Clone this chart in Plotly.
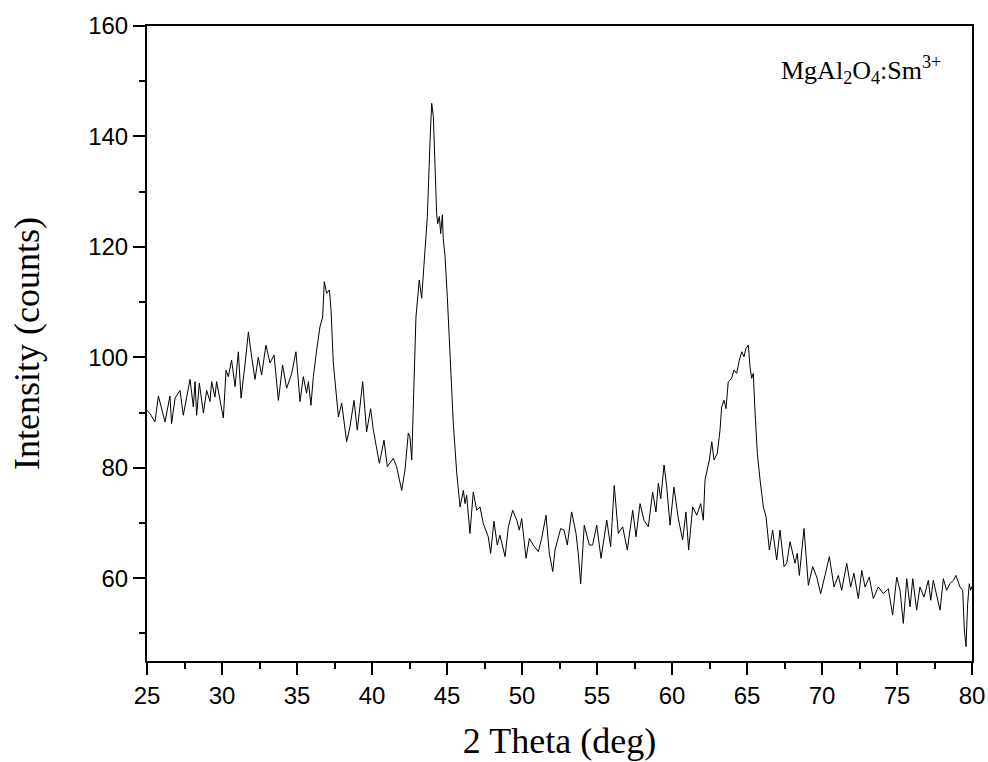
import plotly.graph_objects as go

two_theta = [
    25.00, 25.20, 25.53, 25.76, 26.20, 26.53, 26.64, 26.87, 27.20, 27.42,
    27.87, 28.09, 28.20, 28.31, 28.49, 28.76, 28.98, 29.20, 29.31, 29.53,
    29.64, 29.87, 30.09, 30.27, 30.42, 30.64, 30.87, 31.09, 31.27, 31.53,
    31.76, 31.98, 32.20, 32.42, 32.64, 32.93, 33.20, 33.47, 33.76, 34.04,
    34.31, 34.64, 34.93, 35.20, 35.42, 35.64, 35.76, 35.93, 36.09, 36.31,
    36.53, 36.71, 36.82, 36.98, 37.16, 37.27, 37.42, 37.76, 37.98, 38.31,
    38.53, 38.80, 39.02, 39.38, 39.64, 39.91, 40.09, 40.49, 40.80, 41.02,
    41.42, 41.64, 41.98, 42.20, 42.42, 42.53, 42.65, 42.93, 43.15, 43.31,
    43.42, 43.53, 43.69, 43.87, 43.98, 44.09, 44.20, 44.31, 44.38, 44.49,
    44.58, 44.69, 44.75, 44.87, 45.02, 45.20, 45.42, 45.65, 45.87, 46.09,
    46.20, 46.31, 46.53, 46.75, 46.98, 47.20, 47.42, 47.75, 47.91, 48.13,
    48.35, 48.53, 48.87, 49.09, 49.38, 49.65, 49.82, 49.98, 50.09, 50.27,
    50.49, 50.75, 51.09, 51.31, 51.60, 51.82, 52.05, 52.20, 52.58, 52.80,
    53.02, 53.31, 53.60, 53.75, 53.91, 54.15, 54.49, 54.71, 54.98, 55.27,
    55.65, 55.91, 56.15, 56.42, 56.71, 57.02, 57.38, 57.60, 57.87, 58.13,
    58.42, 58.71, 58.93, 59.09, 59.25, 59.47, 59.65, 59.87, 60.13, 60.42,
    60.71, 60.93, 61.11, 61.38, 61.65, 61.91, 62.09, 62.20, 62.49, 62.65,
    62.80, 63.02, 63.20, 63.31, 63.47, 63.60, 63.75, 63.98, 64.13, 64.31,
    64.49, 64.65, 64.80, 64.93, 65.09, 65.20, 65.31, 65.42, 65.53, 65.69,
    65.87, 66.09, 66.27, 66.49, 66.71, 66.98, 67.20, 67.47, 67.65, 67.87,
    68.20, 68.35, 68.49, 68.80, 69.09, 69.38, 69.65, 69.91, 70.20, 70.49,
    70.80, 71.09, 71.31, 71.65, 71.91, 72.13, 72.42, 72.65, 72.87, 73.15,
    73.42, 73.75, 74.09, 74.42, 74.71, 74.98, 75.20, 75.42, 75.65, 75.87,
    76.05, 76.31, 76.53, 76.80, 77.09, 77.25, 77.42, 77.65, 77.87, 78.09,
    78.31, 78.53, 78.75, 78.93, 79.20, 79.38, 79.49, 79.60, 79.71, 79.82,
    79.91, 80.00,
]

intensity = [
    90.4, 89.8, 88.3, 93.0, 88.3, 93.0, 88.0, 92.6, 94.0, 89.5,
    96.0, 91.0, 95.6, 89.5, 95.3, 89.9, 94.0, 92.0, 95.6, 92.8,
    95.6, 92.2, 89.0, 97.7, 96.5, 99.5, 94.7, 101.0, 92.6, 98.6,
    104.6, 100.0, 96.0, 100.0, 96.8, 102.2, 99.0, 100.4, 92.2, 98.6,
    94.4, 97.0, 101.0, 92.0, 96.5, 93.5, 95.6, 91.3, 96.5, 101.3,
    105.5, 107.3, 113.7, 111.6, 112.2, 108.5, 99.0, 89.2, 91.7, 84.7,
    87.4, 92.2, 86.8, 95.6, 86.5, 90.7, 86.8, 80.8, 85.0, 80.2,
    81.7, 80.2, 75.9, 79.6, 86.3, 85.6, 81.4, 107.3, 114.0, 110.7,
    115.2, 119.4, 125.5, 139.3, 146.0, 143.6, 134.6, 126.0, 124.2, 125.5,
    122.4, 125.8, 121.5, 118.2, 111.0, 100.1, 88.0, 79.0, 72.9, 75.9,
    73.5, 75.0, 68.1, 75.6, 72.3, 72.9, 69.9, 67.5, 64.5, 70.3,
    66.0, 67.8, 63.9, 69.3, 72.3, 70.5, 68.7, 70.8, 68.1, 63.6,
    67.2, 66.0, 64.8, 67.2, 71.4, 64.5, 61.2, 65.1, 69.0, 68.7,
    66.0, 72.0, 68.1, 64.5, 59.0, 69.6, 66.0, 66.0, 69.6, 63.6,
    70.5, 65.7, 76.8, 68.1, 69.3, 65.1, 72.3, 67.5, 73.5, 70.5,
    69.3, 75.6, 72.0, 77.2, 74.4, 80.5, 76.5, 69.6, 76.5, 70.8,
    66.9, 72.0, 65.1, 72.9, 71.4, 73.5, 70.5, 77.8, 81.4, 84.7,
    81.4, 82.6, 86.8, 91.0, 92.2, 90.7, 95.6, 96.2, 97.7, 97.1,
    99.5, 101.0, 100.1, 101.6, 102.2, 98.3, 96.2, 97.1, 90.4, 82.6,
    77.8, 72.9, 71.1, 65.1, 68.7, 63.3, 68.7, 62.1, 62.7, 66.6,
    62.7, 64.5, 60.5, 69.0, 58.7, 62.1, 60.2, 57.2, 60.5, 63.9,
    58.4, 60.5, 57.8, 62.7, 58.4, 60.9, 56.3, 61.4, 58.4, 60.2,
    56.3, 58.4, 57.2, 58.1, 53.3, 60.2, 57.8, 51.8, 59.9, 54.8,
    59.9, 54.2, 58.4, 56.6, 59.6, 56.0, 59.6, 56.6, 54.2, 59.9,
    57.8, 59.0, 59.6, 60.5, 58.4, 57.8, 50.6, 47.6, 55.4, 59.0,
    57.8, 58.5,
]

x_range = [25, 80]
y_range = [45, 160]
x_tickvals = [25, 30, 35, 40, 45, 50, 55, 60, 65, 70, 75, 80]
y_tickvals = [60, 80, 100, 120, 140, 160]

sans = "Liberation Sans, Arial, sans-serif"
serif = "Liberation Serif, Times New Roman, serif"

fig = go.Figure()
fig.add_trace(go.Scatter(
    x=two_theta, y=intensity, mode="lines",
    line=dict(color="black", width=1),
    showlegend=False,
))

axis_common = dict(
    showline=True, linecolor="black", linewidth=2, mirror=True,
    ticks="outside", ticklen=12, tickwidth=2, tickcolor="black",
    showgrid=False, zeroline=False, automargin=False,
    tickfont=dict(family=sans, size=24, color="black"),
)

fig.update_xaxes(
    range=x_range, tickvals=x_tickvals,
    minor=dict(ticks="outside", ticklen=6, tickwidth=2, tickcolor="black", dtick=2.5, tick0=25),
    title=dict(text="2 Theta (deg)", font=dict(family=serif, size=36, color="black"), standoff=20),
    **axis_common,
)
fig.update_yaxes(
    range=y_range, tickvals=y_tickvals,
    minor=dict(ticks="outside", ticklen=6, tickwidth=2, tickcolor="black", dtick=10, tick0=0),
    title=dict(text="Intensity (counts)", font=dict(family=serif, size=36, color="black"), standoff=38),
    **axis_common,
)

fig.add_annotation(
    x=0.866, y=0.93, xref="paper", yref="paper",
    text="MgAl<sub>2</sub>O<sub>4</sub>:Sm<sup>3+</sup>",
    showarrow=False, xanchor="center", yanchor="middle",
    font=dict(family=serif, size=26, color="black"),
)

fig.update_layout(
    width=988, height=762,
    margin=dict(l=147, r=16, t=26, b=101),
    paper_bgcolor="white", plot_bgcolor="white",
)

fig.write_html("out.html")
